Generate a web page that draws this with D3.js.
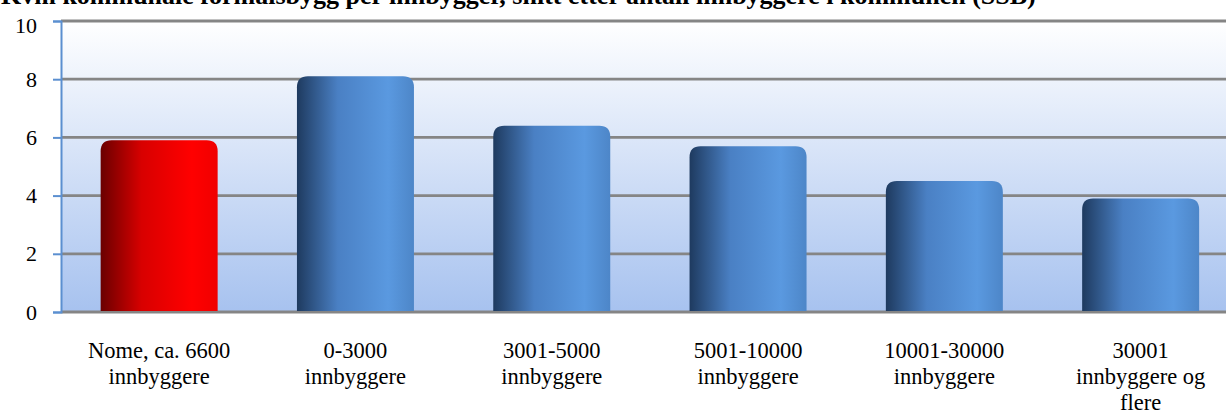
<!DOCTYPE html>
<html lang="no">
<head>
<meta charset="UTF-8">
<title>Kvm kommunale formålsbygg</title>
<script src="https://d3js.org/d3.v7.min.js"></script>
<style>
    body { margin: 0; padding: 0; background: #fff; }
    text { font-family: "Liberation Serif", "DejaVu Serif", serif; font-variant-numeric: oldstyle-nums; }
</style>
</head>
<body>
<div id="main"></div>
<script>
    // data
    var categories = ["Nome, ca. 6600|innbyggere", "0-3000|innbyggere", "3001-5000|innbyggere",
        "5001-10000|innbyggere", "10001-30000|innbyggere", "30001|innbyggere og|flere"];
    var values = [5.9, 8.1, 6.4, 5.7, 4.5, 3.9];
    var highlight = [true, false, false, false, false, false];
    var yTicks = [0, 2, 4, 6, 8, 10];
    var title = "Kvm kommunale formålsbygg per innbygger, snitt etter antall innbyggere i kommunen (SSB)";

    var width = 1226, height = 415;
    var plotLeft = 61, plotTop = 21, plotBottom = 312;
    var plotRight = plotLeft + 6 * 196.3;

    var svg = d3.select("#main").append("svg")
        .attr("width", width).attr("height", height);

    var defs = svg.append("defs");
    var bg = defs.append("linearGradient").attr("id", "bg")
        .attr("x1", 0).attr("y1", 0).attr("x2", 0).attr("y2", 1);
    bg.append("stop").attr("offset", "0%").attr("stop-color", "#ffffff");
    bg.append("stop").attr("offset", "100%").attr("stop-color", "#a7c2ef");

    function barGrad(id, c0, c1, c2, c3) {
        var g = defs.append("linearGradient").attr("id", id)
            .attr("x1", 0).attr("y1", 0).attr("x2", 1).attr("y2", 0);
        g.append("stop").attr("offset", "0%").attr("stop-color", c0);
        g.append("stop").attr("offset", "35%").attr("stop-color", c1);
        g.append("stop").attr("offset", "78%").attr("stop-color", c2);
        g.append("stop").attr("offset", "100%").attr("stop-color", c3);
    }
    barGrad("blue", "#1e3a5f", "#4a80c4", "#5a99e0", "#4d86c8");
    barGrad("red", "#6a0000", "#d80000", "#ff0000", "#f00000");

    var x = d3.scaleBand().domain(d3.range(categories.length))
        .range([plotLeft, plotRight]).paddingInner(0.404).paddingOuter(0.202);
    var y = d3.scaleLinear().domain([0, 10]).range([plotBottom, plotTop]);

    svg.append("rect").attr("x", plotLeft).attr("y", plotTop)
        .attr("width", plotRight - plotLeft).attr("height", plotBottom - plotTop)
        .attr("fill", "url(#bg)");

    // grid
    svg.append("g").selectAll("line").data(yTicks).enter().append("line")
        .attr("x1", plotLeft).attr("x2", plotRight)
        .attr("y1", function(d) { return y(d); }).attr("y2", function(d) { return y(d); })
        .attr("stroke", "#858585").attr("stroke-width", 2.8);

    // bars with rounded tops
    var r = 11;
    svg.append("g").selectAll("path").data(values).enter().append("path")
        .attr("d", function(d, i) {
            var x0 = x(i), x1 = x(i) + x.bandwidth(), y0 = y(d), yb = y(0) - 1;
            return "M" + x0 + "," + yb + "L" + x0 + "," + (y0 + r) +
                "Q" + x0 + "," + y0 + " " + (x0 + r) + "," + y0 +
                "L" + (x1 - r) + "," + y0 +
                "Q" + x1 + "," + y0 + " " + x1 + "," + (y0 + r) +
                "L" + x1 + "," + yb + "Z";
        })
        .attr("fill", function(d, i) { return highlight[i] ? "url(#red)" : "url(#blue)"; });

    // y axis
    var yAxis = svg.append("g").attr("transform", "translate(" + plotLeft + ",0)")
        .call(d3.axisLeft(y).tickValues(yTicks).tickSize(8).tickPadding(16));
    yAxis.select(".domain").attr("stroke", "#5b8fd0").attr("stroke-width", 2);
    yAxis.selectAll(".tick line").attr("stroke", "#5b8fd0").attr("stroke-width", 2);
    yAxis.selectAll(".tick text").attr("font-size", 22).attr("fill", "#000")
        .style("font-family", "'Liberation Serif', serif")
        .attr("dy", function(d) { return d === 10 ? "0.5em" : "0.32em"; });

    // category labels
    var lab = svg.append("g").selectAll("text").data(categories).enter().append("text")
        .attr("text-anchor", "middle").attr("font-size", 22.5).attr("fill", "#000")
        .attr("x", function(d, i) { return x(i) + x.bandwidth() / 2; })
        .attr("y", 358);
    lab.selectAll("tspan").data(function(d) { return d.split("|"); }).enter().append("tspan")
        .attr("x", function() { return d3.select(this.parentNode).attr("x"); })
        .attr("dy", function(d, j) { return j === 0 ? 0 : 26; })
        .text(function(d) { return d; });

    // title, clipped at the top edge as in the original
    svg.append("text").attr("x", 1).attr("y", 4)
        .attr("font-size", 26).attr("font-weight", "bold").attr("fill", "#000")
        .text(title);
</script>
</body>
</html>
